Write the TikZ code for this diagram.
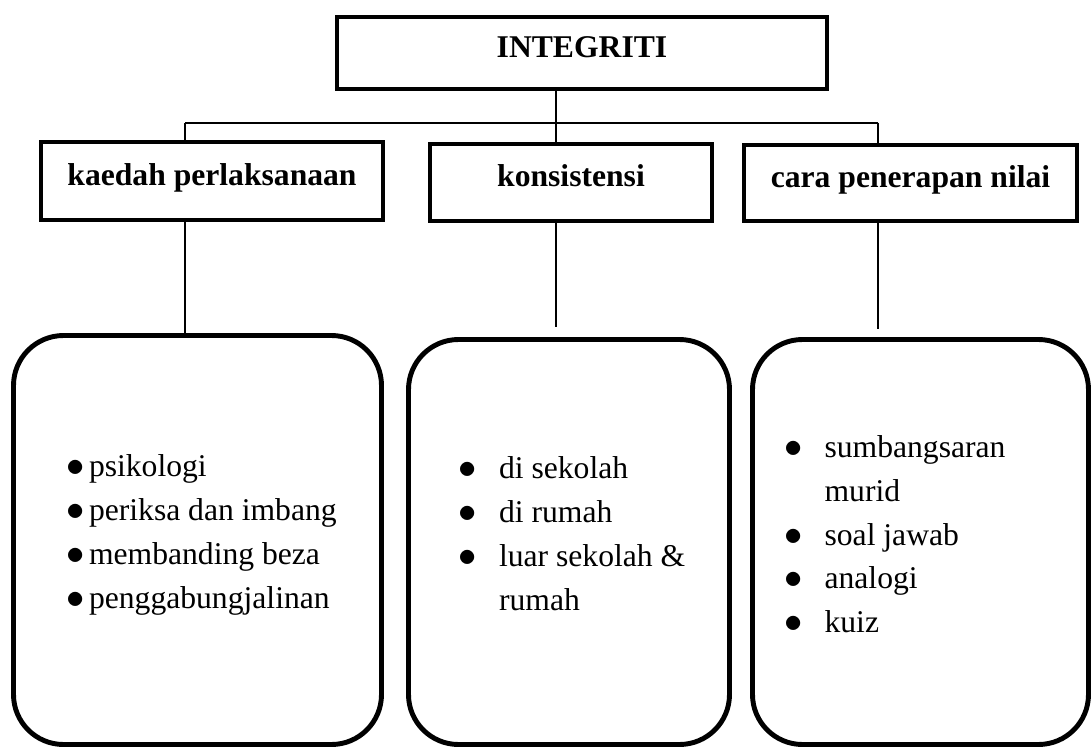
\documentclass[tikz,border=0pt]{standalone}
\usepackage{fontspec}
\setmainfont{Liberation Serif}
\usetikzlibrary{positioning, calc}
\newcommand{\itemdot}{{\fontsize{22}{25}\selectfont$\bullet$}}

\begin{document}
\begin{tikzpicture}[
    every node/.style={font=\fontsize{18}{25}\selectfont},
    box/.style={rectangle, draw=black, line width=2.6pt, inner sep=0pt, font=\fontsize{18}{25}\selectfont\bfseries, text height=0.42cm, text depth=0.26cm},
    panel/.style={rectangle, rounded corners=1cm, draw=black, line width=2.8pt, inner sep=0pt},
    items/.style={inner sep=0pt, anchor=north west},
    link/.style={line width=1.1pt}
]
\useasboundingbox (0,0) rectangle (21.84,-14.94);

% Top
\node[box, minimum width=9.8cm, minimum height=1.44cm] (integ) at (11.64,-1.06) {INTEGRITI};

% Headings
\node[box, minimum width=6.84cm, minimum height=1.56cm] (kaedah) at (4.24,-3.62) {kaedah perlaksanaan};
\node[box, minimum width=5.64cm, minimum height=1.54cm] (konsis) at (11.42,-3.65) {konsistensi};
\node[box, minimum width=6.66cm, minimum height=1.52cm] (cara) at (18.21,-3.66) {cara penerapan nilai};

% Panels
\node[panel, minimum width=7.36cm, minimum height=8.18cm] (p1) at (3.95,-10.8) {};
\node[panel, minimum width=6.42cm, minimum height=8.1cm] (p2) at (11.38,-10.84) {};
\node[panel, minimum width=6.72cm, minimum height=8.1cm] (p3) at (18.41,-10.84) {};

% Lists
\node[items] (l1) at ($(p1.north west)+(1.1,-2.25)$) {\begin{tabular}{@{}l@{}}
\itemdot\hspace{2.5pt}psikologi\\
\itemdot\hspace{2.5pt}periksa dan imbang\\
\itemdot\hspace{2.5pt}membanding beza\\
\itemdot\hspace{2.5pt}penggabungjalinan
\end{tabular}};
\node[items] (l2) at ($(p2.north west)+(1.05,-2.21)$) {\begin{tabular}{@{}l@{\hspace{12.5pt}}l@{}}
\itemdot & di sekolah\\
\itemdot & di rumah\\
\itemdot & luar sekolah \&\\
  & rumah
\end{tabular}};
\node[items] (l3) at ($(p3.north west)+(0.68,-1.78)$) {\begin{tabular}{@{}l@{\hspace{12.5pt}}l@{}}
\itemdot & sumbangsaran\\
  & murid\\
\itemdot & soal jawab\\
\itemdot & analogi\\
\itemdot & kuiz
\end{tabular}};

% Lines
\coordinate (hubL) at (3.7,-2.454);
\coordinate (hubM) at (11.12,-2.454);
\coordinate (hubR) at (17.56,-2.454);

\draw[link] (hubL) -- (hubR);
\draw[link] (integ.south -| hubM) -- (hubM);
\draw[link] (hubL) -- (hubL |- kaedah.north);
\draw[link] (hubM) -- (hubM |- konsis.north);
\draw[link] (hubR) -- (hubR |- cara.north);

\draw[link] (kaedah.south -| hubL) -- (hubL |- p1.north);
\draw[link, shorten >=0.21cm] (konsis.south -| hubM) -- (hubM |- p2.north);
\draw[link, shorten >=0.17cm] (cara.south -| hubR) -- (hubR |- p3.north);

\end{tikzpicture}
\end{document}
